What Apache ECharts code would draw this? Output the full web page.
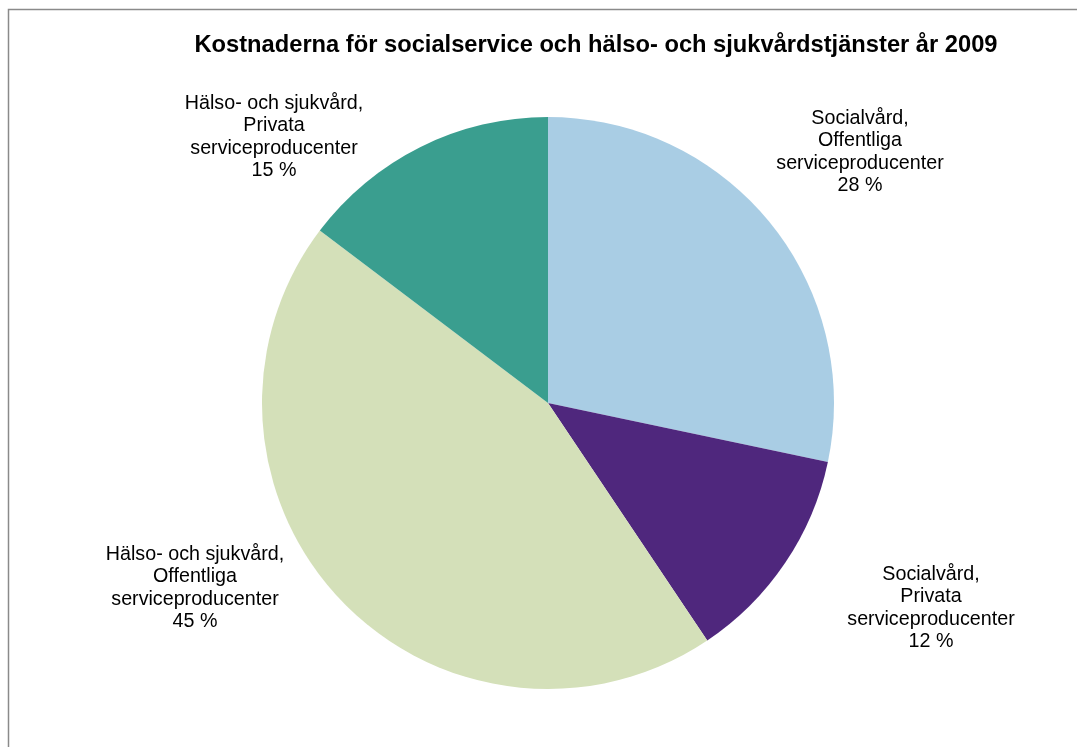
<!DOCTYPE html>
<html>
<head>
<meta charset="utf-8">
<script src="https://cdn.jsdelivr.net/npm/echarts@6/dist/echarts.min.js"></script>
<style>
html,body{margin:0;padding:0;background:#fff;}
#chart{width:1077px;height:747px;}
</style>
</head>
<body>
<div id="chart"></div>
<script>
// Data
var titleText = 'Kostnaderna för socialservice och hälso- och sjukvårdstjänster år 2009';
var sectors = ['Socialvård', 'Socialvård', 'Hälso- och sjukvård', 'Hälso- och sjukvård'];
var producers = ['Offentliga', 'Privata', 'Offentliga', 'Privata'];
var shares = [28.3, 12.3, 44.7, 14.7];

// Styles / layout (kept apart from data)
var colors = ['#A9CDE4', '#4F277D', '#D4E0B9', '#3A9E8F'];
var labelCenters = [[860, 152], [931, 608], [195, 588], [274, 137]];

var data = shares.map(function (v, i) {
  return {
    name: sectors[i] + ', ' + producers[i] + ' serviceproducenter',
    value: v,
    itemStyle: { color: colors[i] }
  };
});

var chart = echarts.init(document.getElementById('chart'), null, { renderer: 'canvas' });
chart.setOption({
  backgroundColor: '#ffffff',
  animation: false,
  title: {
    text: titleText,
    left: 591,
    top: 28,
    textAlign: 'center',
    textStyle: {
      fontFamily: 'Liberation Sans, Arial, sans-serif',
      fontSize: 23.7,
      fontWeight: 'bold',
      color: '#000'
    }
  },
  graphic: [{
    type: 'rect',
    shape: { x: 8.5, y: 9.5, width: 1200, height: 800 },
    style: { fill: 'none', stroke: '#8a8a8a', lineWidth: 1.5 },
    silent: true,
    z: -10
  }],
  series: [{
    type: 'pie',
    center: [548, 403],
    radius: 286,
    startAngle: 90,
    clockwise: true,
    data: data,
    itemStyle: { borderWidth: 0 },
    emphasis: { disabled: true },
    label: {
      show: true,
      position: 'outside',
      fontFamily: 'Liberation Sans, Arial, sans-serif',
      fontSize: 19.7,
      lineHeight: 22.5,
      color: '#000',
      align: 'center',
      formatter: function (p) {
        var i = p.dataIndex;
        return sectors[i] + ',\n' + producers[i] + '\nserviceproducenter\n' + Math.round(shares[i]) + ' %';
      }
    },
    labelLine: { show: false },
    labelLayout: function (p) {
      var c = labelCenters[p.dataIndex];
      return { x: c[0], y: c[1], align: 'center', verticalAlign: 'middle' };
    }
  }]
});
</script>
</body>
</html>
